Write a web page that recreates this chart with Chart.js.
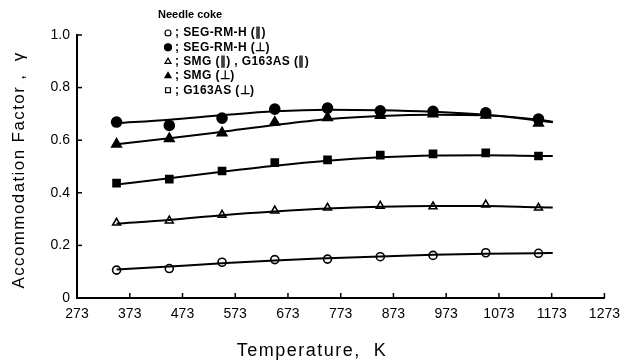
<!DOCTYPE html>
<html><head><meta charset="utf-8">
<script src="https://cdn.jsdelivr.net/npm/chart.js@4.4.0/dist/chart.umd.min.js"></script>
<style>html,body{margin:0;padding:0;background:#fff}#wrap{width:628px;height:363px;position:relative}</style>
</head><body><div id="wrap"><canvas id="c" width="628" height="363"></canvas></div>
<script>
// ---- data ----
const temps = [348, 448, 548, 648, 748, 848, 948, 1048, 1148];
const curveTemps = [348, 448, 548, 648, 748, 848, 948, 1048, 1148, 1175];
const xTicks = [273, 373, 473, 573, 673, 773, 873, 973, 1073, 1173, 1273];
const yTicks = [0, 0.2, 0.4, 0.6, 0.8, 1.0];

const segParPts   = [0.106, 0.112, 0.136, 0.146, 0.148, 0.157, 0.162, 0.172, 0.170];
const segParCurve = [0.108, 0.120, 0.132, 0.143, 0.151, 0.158, 0.164, 0.168, 0.170, 0.171];

const segPerpPts   = [0.669, 0.656, 0.684, 0.718, 0.722, 0.712, 0.710, 0.704, 0.680];
const segPerpCurve = [0.665, 0.678, 0.695, 0.710, 0.716, 0.714, 0.708, 0.697, 0.678, 0.670];

const smgParPts   = [0.286, 0.294, 0.316, 0.332, 0.343, 0.350, 0.348, 0.355, 0.343];
const smgParCurve = [0.283, 0.297, 0.315, 0.329, 0.340, 0.347, 0.350, 0.350, 0.345, 0.344];

const smgPerpPts   = [0.585, 0.606, 0.628, 0.668, 0.686, 0.694, 0.700, 0.695, 0.665];
const smgPerpCurve = [0.585, 0.607, 0.632, 0.658, 0.680, 0.692, 0.697, 0.695, 0.675, 0.668];

const gPerpPts   = [0.437, 0.452, 0.483, 0.515, 0.525, 0.543, 0.548, 0.552, 0.540];
const gPerpCurve = [0.432, 0.455, 0.480, 0.503, 0.522, 0.535, 0.542, 0.543, 0.540, 0.540];

const legendTitle = 'Needle coke';
const legendLabels = ['; SEG-RM-H (∥)', '; SEG-RM-H (⊥)', '; SMG (∥) , G163AS (∥)', '; SMG (⊥)', '; G163AS (⊥)'];
const xTitle = 'Temperature,  K';
const yTitle = 'Accommodation Factor ,  γ';

// ---- build chart ----
const FONT = "'Liberation Sans',Arial,sans-serif";
const pts = (xs, ys) => xs.map((x, i) => ({x: x, y: ys[i]}));
const markers = [
  {style: 'circle', fill: '#fff', r: 4},
  {style: 'circle', fill: '#000', r: 5},
  {style: 'triangle', fill: '#fff', r: 4.5},
  {style: 'triangle', fill: '#000', r: 5.5},
  {style: 'rect', fill: '#000', r: 5}
];
const series = [
  [segParPts, segParCurve], [segPerpPts, segPerpCurve], [smgParPts, smgParCurve],
  [smgPerpPts, smgPerpCurve], [gPerpPts, gPerpCurve]
];
const datasets = [];
series.forEach(([p, c]) => {
  datasets.push({data: pts(curveTemps, c), showLine: true, pointRadius: 0, borderColor: '#000',
    borderWidth: 2, tension: 0.4, cubicInterpolationMode: 'monotone', fill: false});
});
series.forEach(([p, c], i) => {
  const m = markers[i];
  datasets.push({data: pts(temps, p), showLine: false, pointStyle: m.style, pointRadius: m.r,
    pointBackgroundColor: m.fill, pointBorderColor: '#000', pointBorderWidth: 1.6});
});

const decor = {
  id: 'decor',
  afterDraw(chart) {
    const ctx = chart.ctx, xs = chart.scales.x, ys = chart.scales.y;
    ctx.save();
    ctx.strokeStyle = '#000'; ctx.lineWidth = 1.5;
    // inward ticks
    xTicks.forEach(v => { const px = xs.getPixelForValue(v);
      ctx.beginPath(); ctx.moveTo(px, ys.bottom); ctx.lineTo(px, ys.bottom - 5); ctx.stroke(); });
    yTicks.forEach(v => { const py = ys.getPixelForValue(v);
      ctx.beginPath(); ctx.moveTo(xs.left, py); ctx.lineTo(xs.left + 5, py); ctx.stroke(); });
    // axis titles
    ctx.fillStyle = '#000';
    ctx.textAlign = 'center'; ctx.textBaseline = 'middle';
    ctx.font = '18px ' + FONT;
    try { ctx.letterSpacing = '1.5px'; } catch (e) {}
    ctx.fillText(xTitle, 312, 351);
    ctx.save(); ctx.translate(19, 170); ctx.rotate(-Math.PI / 2);
    ctx.font = '17px ' + FONT;
    try { ctx.letterSpacing = '1.4px'; } catch (e) {}
    ctx.fillText(yTitle, 0, 0); ctx.restore();
    // legend
    try { ctx.letterSpacing = '0px'; } catch (e) {}
    ctx.font = 'bold 11px ' + FONT; ctx.textAlign = 'left';
    ctx.fillText(legendTitle, 158, 15);
    ctx.font = 'bold 12px ' + FONT;
    try { ctx.letterSpacing = '0.4px'; } catch (e) {}
    const legM = [
      {style: 'circle', fill: '#fff', r: 3},
      {style: 'circle', fill: '#000', r: 3.5},
      {style: 'triangle', fill: '#fff', r: 3.5},
      {style: 'triangle', fill: '#000', r: 3.5},
      {style: 'rect', fill: '#fff', r: 3.5}
    ];
    legendLabels.forEach((t, i) => {
      const y = 33 + i * 14.3;
      ctx.fillStyle = legM[i].fill; ctx.strokeStyle = '#000'; ctx.lineWidth = 1.2;
      Chart.helpers.drawPoint(ctx, {pointStyle: legM[i].style, radius: legM[i].r, borderWidth: 1.2}, 168, y);
      ctx.fillStyle = '#000';
      ctx.fillText(t, 175, y);
    });
    ctx.restore();
  }
};

new Chart(document.getElementById('c'), {
  type: 'scatter',
  data: {datasets},
  options: {
    responsive: false, animation: false, devicePixelRatio: 1,
    layout: {padding: {left: 0, right: 18, top: 35, bottom: 0}},
    plugins: {legend: {display: false}, tooltip: {enabled: false}},
    scales: {
      x: {type: 'linear', min: 273, max: 1273,
        afterBuildTicks: s => { s.ticks = xTicks.map(v => ({value: v})); },
        afterFit: s => { s.height = 65; },
        grid: {display: true, drawOnChartArea: false, drawTicks: false},
        border: {display: true, color: '#000', width: 2},
        ticks: {color: '#000', font: {family: FONT, size: 14}, padding: 8, maxRotation: 0, autoSkip: false,
          callback: v => String(v)}
      },
      y: {type: 'linear', min: 0, max: 1.0,
        afterBuildTicks: s => { s.ticks = yTicks.map(v => ({value: v})); },
        afterFit: s => { s.width = 77; },
        grid: {display: true, drawOnChartArea: false, drawTicks: false},
        border: {display: true, color: '#000', width: 2},
        ticks: {color: '#000', font: {family: FONT, size: 14}, padding: 7,
          callback: v => v === 0 ? '0' : v.toFixed(1)}
      }
    }
  },
  plugins: [decor]
});
</script></body></html>
